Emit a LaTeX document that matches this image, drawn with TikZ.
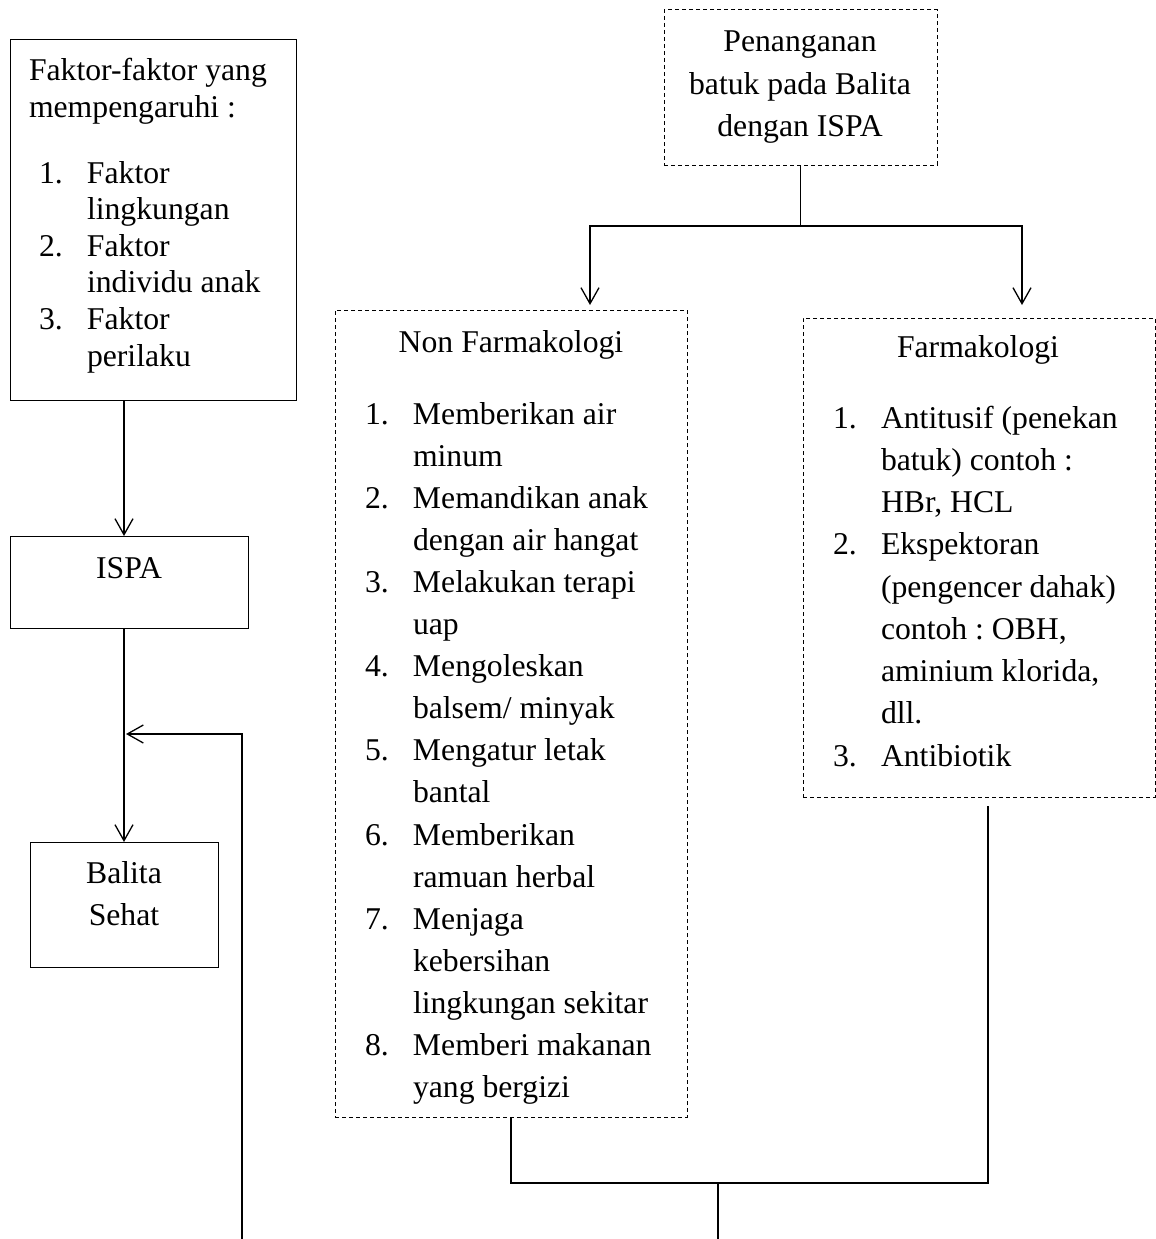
\documentclass[tikz,border=0pt]{standalone}
\usepackage{fontspec}
\setmainfont{Liberation Serif}
\usetikzlibrary{arrows.meta}
\newcommand{\nm}[1]{\makebox[48pt][l]{#1}}
\frenchspacing
\begin{document}
\begin{tikzpicture}[x=1pt,y=-1pt,
 solidbox/.style={draw, line width=1pt, inner sep=0pt, outer sep=0pt},
 dashbox/.style={draw, line width=1pt, dash pattern=on 4pt off 3pt, inner sep=0pt, outer sep=0pt},
 txt/.style={inner sep=0pt, outer sep=0pt, font=\fontsize{31.7}{42.1}\selectfont},
 txtA/.style={inner sep=0pt, outer sep=0pt, font=\fontsize{31.7}{36.6}\selectfont},
 conn/.style={line width=1.3pt},
 arr/.style={conn, -{Straight Barb[length=16pt,width=18pt,line width=1.3pt]}}]
\useasboundingbox (0,0) rectangle (1156,1239);

% boxes
\node[solidbox, minimum width=286pt, minimum height=360pt] (fak) at (153,220) {};
\node[solidbox, minimum width=238pt, minimum height=92pt] (ispa) at (129,582) {};
\node[solidbox, minimum width=188pt, minimum height=125pt] (bal) at (124,904.5) {};
\node[dashbox, minimum width=273pt, minimum height=155pt] (pen) at (800.5,87.5) {};
\node[dashbox, minimum width=352pt, minimum height=807pt] (non) at (511,713.5) {};
\node[dashbox, minimum width=352pt, minimum height=479pt] (farm) at (979,557.5) {};

% texts
\node[txtA, anchor=base west] (fakT) at (29,81) {\begin{tabular}[t]{@{}l@{}}Faktor-faktor yang\\mempengaruhi :\end{tabular}};
\node[txtA, anchor=base west] (fakL) at (39,183) {\begin{tabular}[t]{@{}l@{}l@{}}
\nm{1.}&Faktor\\&lingkungan\\
\nm{2.}&Faktor\\&individu anak\\
\nm{3.}&Faktor\\&perilaku\end{tabular}};
\node[txt, anchor=base] (ispaT) at (129,578) {ISPA};
\node[txt, anchor=base] (balT) at (124,883) {\begin{tabular}[t]{@{}c@{}}Balita\\Sehat\end{tabular}};
\node[txt, anchor=base, font=\fontsize{31.7}{42.5}\selectfont] (penT) at (800,52) {\begin{tabular}[t]{@{}c@{}}Penanganan\\batuk pada Balita\\dengan ISPA\end{tabular}};
\node[txt, anchor=base] (nonT) at (511,352) {Non Farmakologi};
\node[txt, anchor=base west] (nonL) at (365,424) {\begin{tabular}[t]{@{}l@{}l@{}}
\nm{1.}&Memberikan air\\&minum\\
\nm{2.}&Memandikan anak\\&dengan air hangat\\
\nm{3.}&Melakukan terapi\\&uap\\
\nm{4.}&Mengoleskan\\&balsem/ minyak\\
\nm{5.}&Mengatur letak\\&bantal\\
\nm{6.}&Memberikan\\&ramuan herbal\\
\nm{7.}&Menjaga\\&kebersihan\\&lingkungan sekitar\\
\nm{8.}&Memberi makanan\\&yang bergizi\end{tabular}};
\node[txt, anchor=base] (farmT) at (978,357) {Farmakologi};
\node[txt, anchor=base west, font=\fontsize{31.7}{42.25}\selectfont] (farmL) at (833,428) {\begin{tabular}[t]{@{}l@{}l@{}}
\nm{1.}&Antitusif (penekan\\&batuk) contoh :\\&HBr, HCL\\
\nm{2.}&Ekspektoran\\&(pengencer dahak)\\&contoh : OBH,\\&aminium klorida,\\&dll.\\
\nm{3.}&Antibiotik\end{tabular}};

% coordinates
\coordinate (splitY) at (0,226);
\coordinate (nonIn) at (590,305);
\coordinate (farmIn) at (1022,305);
\coordinate (farmOut) at (988,806);
\coordinate (joinY) at (0,1183);
\coordinate (down) at (718,1239);
\coordinate (fbTop) at (242,734);
\coordinate (fbBot) at (242,1239);

% connectors
\draw[arr] (fak.south -| bal.north) -- (ispa.north -| bal.north);
\draw[arr] (ispa.south -| bal.north) -- (bal.north);
\draw[arr, shorten >=2pt] (fbBot) -- (fbTop) -- (fbTop -| bal.north);
\draw[conn] (pen.south) -- (pen.south |- splitY) coordinate (split);
\draw[arr] (split) -| (nonIn);
\draw[arr] (split) -| (farmIn);
\draw[conn] (non.south) -- (non.south |- joinY) -- (farmOut |- joinY) -- (farmOut);
\draw[conn] (down |- joinY) -- (down);
\end{tikzpicture}
\end{document}
